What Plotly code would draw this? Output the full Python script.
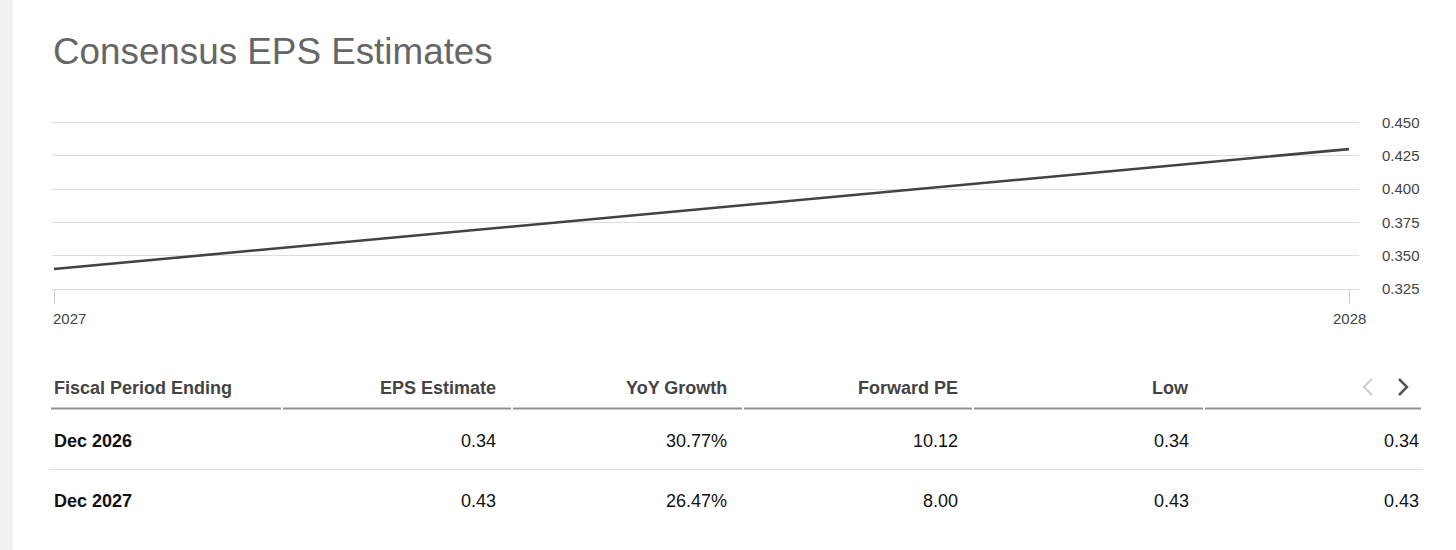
import plotly.graph_objects as go

W, H = 1456, 550

# chart data
years = [2027, 2028]
eps_line = [0.34, 0.43]
y_ticks = [0.325, 0.350, 0.375, 0.400, 0.425, 0.450]

# table data
headers = ['Fiscal Period Ending', 'EPS Estimate', 'YoY Growth', 'Forward PE', 'Low']
periods = ['Dec 2026', 'Dec 2027']
eps_est = ['0.34', '0.43']
yoy_growth = ['30.77%', '26.47%']
forward_pe = ['10.12', '8.00']
low = ['0.34', '0.43']
high = ['0.34', '0.43']

FONT = 'Arial, Liberation Sans, sans-serif'


def px(x):
    return x / W


def py(y):
    return 1 - y / H


fig = go.Figure()
fig.add_trace(go.Scatter(
    x=years, y=eps_line, mode='lines',
    line=dict(color='#424242', width=2.6),
    hoverinfo='skip', showlegend=False,
))

annotations = []
shapes = []

# title
annotations.append(dict(
    text='Consensus EPS Estimates', x=px(51), y=py(52), xref='paper', yref='paper',
    xanchor='left', yanchor='middle', showarrow=False,
    font=dict(family=FONT, size=36.8, color='#666666'),
))

# x labels (first one is pushed inside like the original)
for yr, anchor, shift in zip(years, ['left', 'center'], [-3, 0]):
    annotations.append(dict(
        text=str(yr), x=yr, y=py(318), xref='x', yref='paper',
        xanchor=anchor, yanchor='middle', xshift=shift, showarrow=False,
        font=dict(family=FONT, size=15, color='#444444'),
    ))

# table
col_right = [None, 498, 729, 960, 1191, 1421]
header_y, row_y = 388, [441, 501]
for i, h in enumerate(headers):
    if i == 0:
        x, anchor = px(52), 'left'
    else:
        x, anchor = px(col_right[i]), 'right'
    annotations.append(dict(
        text='<b>%s</b>' % h, x=x, y=py(header_y), xref='paper', yref='paper',
        xanchor=anchor, yanchor='middle', showarrow=False,
        font=dict(family=FONT, size=18, color='#444444'),
    ))

columns = [eps_est, yoy_growth, forward_pe, low, high]
for r, period in enumerate(periods):
    annotations.append(dict(
        text='<b>%s</b>' % period, x=px(52), y=py(row_y[r]), xref='paper', yref='paper',
        xanchor='left', yanchor='middle', showarrow=False,
        font=dict(family=FONT, size=18, color='#111111'),
    ))
    for c, col in enumerate(columns):
        annotations.append(dict(
            text=col[r], x=px(col_right[c + 1]), y=py(row_y[r]), xref='paper', yref='paper',
            xanchor='right', yanchor='middle', showarrow=False,
            font=dict(family=FONT, size=18, color='#111111'),
        ))

# header underline, split into column segments
seg_edges = [50, 282, 512, 743, 973, 1204, 1422]
for a, b in zip(seg_edges[:-1], seg_edges[1:]):
    shapes.append(dict(type='line', xref='paper', yref='paper',
                       x0=px(a + 1), x1=px(b - 1), y0=py(408.5), y1=py(408.5),
                       line=dict(color='#8c9396', width=2)))
# row separator
shapes.append(dict(type='line', xref='paper', yref='paper',
                   x0=px(50), x1=px(1422), y0=py(469.5), y1=py(469.5),
                   line=dict(color='#dddddd', width=1)))

# pager arrows
shapes.append(dict(type='path', xref='paper', yref='paper',
                   path='M %f %f L %f %f L %f %f' % (px(1372), py(379), px(1364), py(387), px(1372), py(395)),
                   line=dict(color='#cccccc', width=2)))
shapes.append(dict(type='path', xref='paper', yref='paper',
                   path='M %f %f L %f %f L %f %f' % (px(1399), py(379), px(1407), py(387), px(1399), py(395)),
                   line=dict(color='#555555', width=2.5)))

# left page strip
shapes.append(dict(type='rect', xref='paper', yref='paper', x0=0, x1=px(13), y0=0, y1=1,
                   fillcolor='#f4f0ef', line=dict(width=0), layer='below'))

fig.update_layout(
    template='none',
    width=W, height=H,
    margin=dict(l=0, r=0, t=0, b=0, pad=0, autoexpand=False),
    paper_bgcolor='white', plot_bgcolor='white',
    showlegend=False,
    xaxis=dict(
        domain=[px(52), px(1359)],
        range=[2027 - 2 / 1295, 2027 + 1305 / 1295],
        tickvals=years, showticklabels=False, automargin=False,
        ticks='outside', ticklen=14, tickcolor='#cccccc', tickwidth=1,
        showgrid=False, zeroline=False,
        showline=True, linecolor='#dddddd', linewidth=1,
    ),
    yaxis=dict(
        domain=[py(289), py(119.8)],
        range=[0.325, 0.452], automargin=False,
        side='right', tickvals=y_ticks, tickformat='.3f',
        ticks='', ticklabelstandoff=22,
        tickfont=dict(family=FONT, size=15, color='#444444'),
        showgrid=True, gridcolor='#dddddd', gridwidth=1,
        zeroline=False, showline=False,
    ),
    annotations=annotations,
    shapes=shapes,
)

fig.write_html('out.html', config={'displayModeBar': False},
               post_script="document.body.style.margin='0';")
